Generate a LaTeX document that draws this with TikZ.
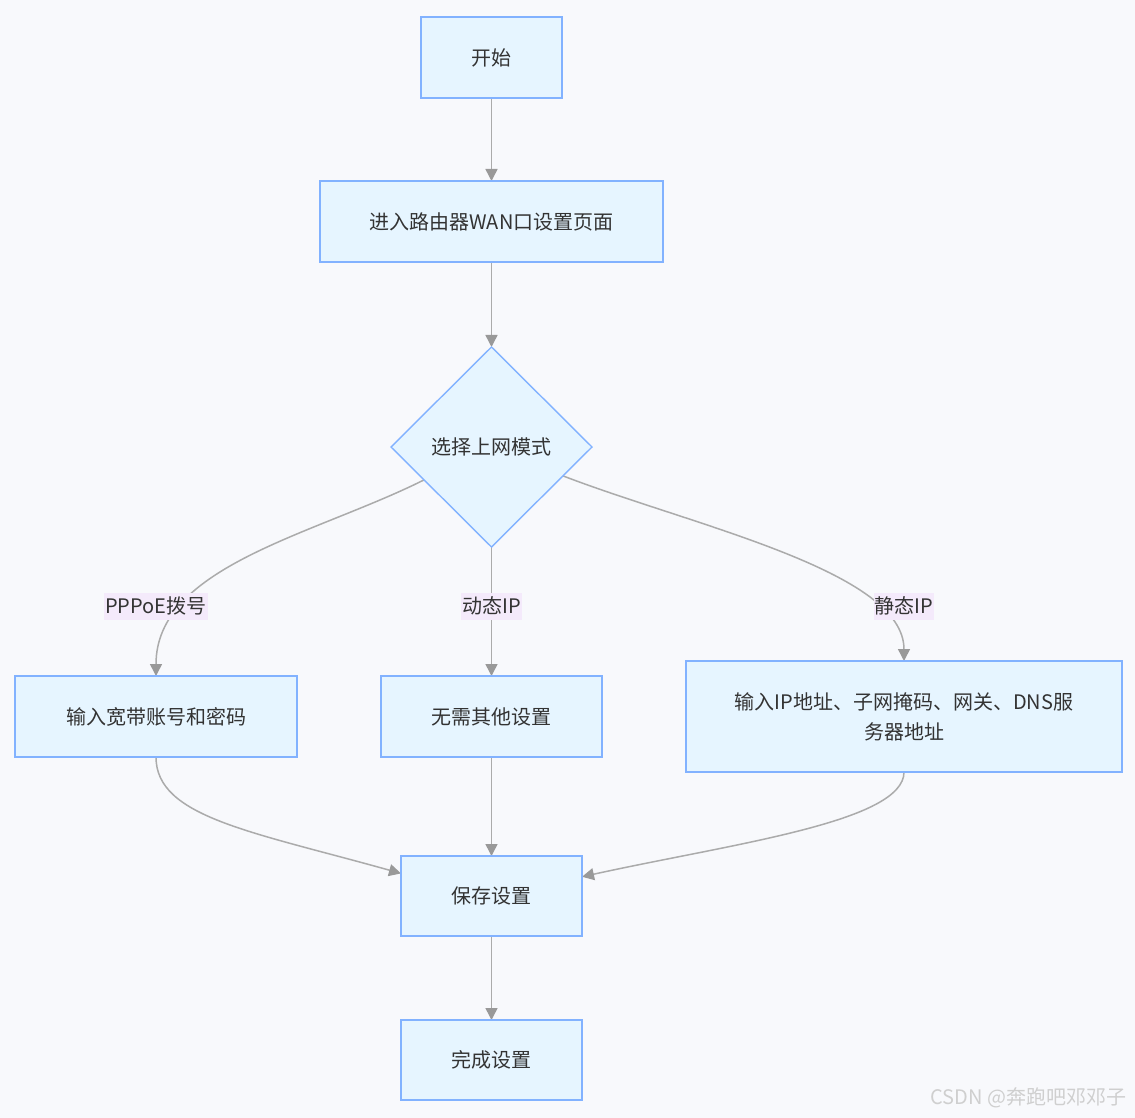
\documentclass[tikz,border=0pt]{standalone}
\usepackage{fontspec}
\setmainfont{Noto Sans CJK SC}
\usetikzlibrary{positioning, shapes.geometric, arrows.meta}
\definecolor{pagebg}{HTML}{F8F9FC}
\definecolor{boxfill}{HTML}{E6F5FF}
\definecolor{boxline}{HTML}{82B2FF}
\definecolor{linkgray}{HTML}{ABABAB}
\definecolor{tipgray}{HTML}{999999}
\definecolor{tagbg}{HTML}{F4EAFB}
\definecolor{textgray}{HTML}{333333}
\definecolor{markgray}{HTML}{CFCFCF}
\pgfdeclarelayer{bg}
\pgfdeclarelayer{edges}
\pgfsetlayers{bg,edges,main}

\begin{document}
\begin{tikzpicture}[x=1pt, y=-1pt, node distance=83pt, font=\fontsize{20}{30}\selectfont, text=textgray,
  box/.style={rectangle, draw=boxline, fill=boxfill, line width=1.4pt, minimum height=81pt, inner sep=0pt, outer sep=0pt, align=center},
  choice/.style={diamond, draw=boxline, fill=boxfill, line width=1.4pt, aspect=1, minimum width=201pt, minimum height=200pt, inner sep=0pt, outer sep=0pt},
  tag/.style={fill=tagbg, inner xsep=1pt, inner ysep=4.5pt, outer sep=0pt},
  link/.style={draw=linkgray, line width=1.5pt, -{Triangle[length=12pt, width=12pt, color=tipgray]}}]

\useasboundingbox (0,0) rectangle (1135,1118);
\begin{pgfonlayer}{bg}
\fill[pagebg] (0,0) rectangle (1135,1118);
\end{pgfonlayer}

\node[box, minimum width=141pt]	(start) at (491.5,57.5)	{开始};
\node[box, minimum width=343pt]	(wan_page)	[below=of start]	{进入路由器WAN口设置页面};
\node[choice]	(choose_mode)	[below=85pt of wan_page]	{选择上网模式};
\node[box, minimum width=221pt]	(no_setting)	[below=129pt of choose_mode]	{无需其他设置};
\node[box, minimum width=282pt]	(pppoe_input)	[left=84pt of no_setting]	{输入宽带账号和密码};
\node[box, minimum width=436pt, minimum height=111pt]	(static_input)	[right=84pt of no_setting]	{输入IP地址、子网掩码、网关、DNS服\\务器地址};
\node[box, minimum width=181pt, minimum height=80pt]	(save_settings)	[below=99pt of no_setting]	{保存设置};
\node[box, minimum width=181pt, minimum height=80pt]	(done)	[below=84pt of save_settings]	{完成设置};

\node[tag]	(pppoe_tag)	[above=56pt of pppoe_input.north]	{PPPoE拨号};
\node[tag]	(dynamic_tag)	[above=56pt of no_setting.north]	{动态IP};
\node[tag]	(static_tag)	[above=41pt of static_input.north]	{静态IP};

\node[text=markgray, font=\fontsize{20}{24}\selectfont, anchor=east]	(csdn_mark) at (1130,1098)	{CSDN @奔跑吧邓邓子};

\begin{pgfonlayer}{edges}
\draw[link] (start) -- (wan_page);
\draw[link] (wan_page) -- (choose_mode);
\draw[link] (choose_mode.206) .. controls +(-110,55) and +(0,-110) .. (pppoe_input.north);
\draw[link] (choose_mode) -- (no_setting);
\draw[link] (choose_mode.338) .. controls +(130,50) and +(0,-90) .. (static_input.north);
\draw[link] (pppoe_input.south) .. controls +(0,60) and +(-150,-42) .. (save_settings.166);
\draw[link] (no_setting) -- (save_settings);
\draw[link] (static_input.south) .. controls +(0,50) and +(150,-33) .. (save_settings.12);
\draw[link] (save_settings) -- (done);
\end{pgfonlayer}

\end{tikzpicture}
\end{document}
